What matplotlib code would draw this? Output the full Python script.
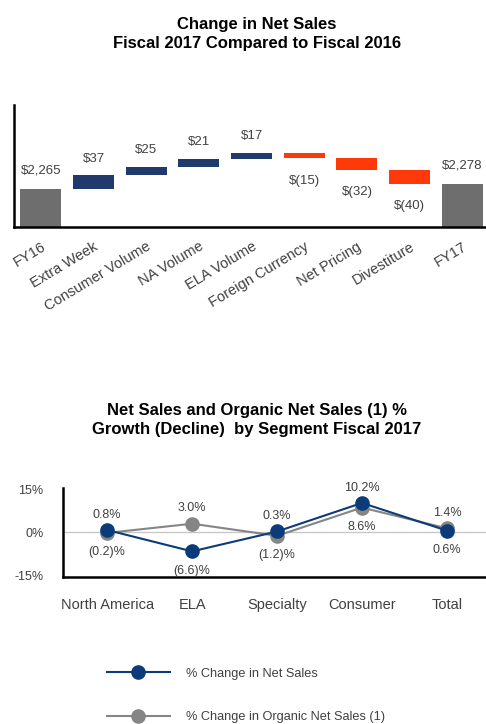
import matplotlib
matplotlib.use("Agg")
import matplotlib.pyplot as plt
import numpy as np

plt.rcParams['font.family'] = ['Liberation Sans', 'DejaVu Sans']

# ---- Waterfall data ----
wf_categories = ["FY16", "Extra Week", "Consumer Volume", "NA Volume", "ELA Volume",
                 "Foreign Currency", "Net Pricing", "Divestiture", "FY17"]
wf_start = 2265
wf_changes = [37, 25, 21, 17, -15, -32, -40]
wf_end = 2278
wf_labels = ["$2,265", "$37", "$25", "$21", "$17", "$(15)", "$(32)", "$(40)", "$2,278"]

# ---- Line chart data ----
segments = ["North America", "ELA", "Specialty", "Consumer", "Total"]
net_sales_pct = [0.8, -6.6, 0.3, 10.2, 0.6]
organic_pct = [-0.2, 3.0, -1.2, 8.6, 1.4]
yticks_pct = [-15, 0, 15]
ytick_labels = ["-15%", "0%", "15%"]

NAVY = "#1f3a6b"
RED = "#ff3a0a"
BARGRAY = "#6e6e6e"
LBLUE = "#0b3b78"
LGRAY = "#858585"
TXT = "#404040"

fig = plt.figure(figsize=(4.86, 7.24), dpi=100)

# ---------- Titles ----------
fig.text(257/486, 1 - 34/724, "Change in Net Sales\nFiscal 2017 Compared to Fiscal 2016",
         ha='center', va='center', fontsize=12, fontweight='bold', linespacing=1.4)
fig.text(257/486, 1 - 420/724, "Net Sales and Organic Net Sales (1) %\nGrowth (Decline)  by Segment Fiscal 2017",
         ha='center', va='center', fontsize=12, fontweight='bold', linespacing=1.4)

# ---------- Waterfall ----------
ax1 = fig.add_axes([14/486, 1 - 227/724, 1 - 14/486, (227 - 105)/724])
x = np.arange(len(wf_categories))
width = 0.78
cum = np.cumsum([wf_start] + wf_changes)
bottoms = [0]
heights = [wf_start]
colors = [BARGRAY]
for i, c in enumerate(wf_changes):
    prev = cum[i]
    bottoms.append(min(prev, prev + c))
    heights.append(abs(c))
    colors.append(NAVY if c > 0 else RED)
bottoms.append(0)
heights.append(wf_end)
colors.append(BARGRAY)
ax1.bar(x, heights, bottom=bottoms, width=width, color=colors)

for i in range(len(x)):
    top = bottoms[i] + heights[i]
    if i in (0, len(x) - 1):
        ax1.annotate(wf_labels[i], (x[i], top), xytext=(0, 13), textcoords='offset points',
                     ha='center', va='center', fontsize=9.5, color=TXT)
    elif wf_changes[i - 1] > 0:
        ax1.annotate(wf_labels[i], (x[i], top), xytext=(0, 12), textcoords='offset points',
                     ha='center', va='center', fontsize=9.5, color=TXT)
    else:
        ax1.annotate(wf_labels[i], (x[i], bottoms[i]), xytext=(0, -16), textcoords='offset points',
                     ha='center', va='center', fontsize=9.5, color=TXT)

ax1.set_ylim(2157, 2500)
ax1.set_xlim(-0.51, 8.45)
ax1.set_yticks([])
ax1.set_xticks(x)
ax1.set_xticklabels(wf_categories, rotation=31, ha='right', rotation_mode='anchor',
                    fontsize=10.5, color=TXT)
ax1.tick_params(axis='x', length=0, pad=9)
for s in ['top', 'right']:
    ax1.spines[s].set_visible(False)
ax1.spines['left'].set_linewidth(1.8)
ax1.spines['bottom'].set_linewidth(1.8)
ax1.set_facecolor('none')

# ---------- Line chart ----------
ax2 = fig.add_axes([63/486, 1 - 577/724, 1 - 63/486, (577 - 488)/724])
xs = np.arange(len(segments))
ax2.axhline(0, color="#c8c8c8", lw=1, zorder=1)
ax2.plot(xs, organic_pct, color=LGRAY, lw=1.5, marker='o', markersize=9.5, zorder=2,
         label="% Change in Organic Net Sales (1)")
ax2.plot(xs, net_sales_pct, color=LBLUE, lw=1.5, marker='o', markersize=9.5, zorder=3,
         label="% Change in Net Sales")

def fmt(v):
    return f"({abs(v):.1f})%" if v < 0 else f"{v:.1f}%"

for i in range(len(segments)):
    a, b = net_sales_pct[i], organic_pct[i]
    hi, lo = max(a, b), min(a, b)
    ax2.annotate(fmt(hi), (xs[i], hi), xytext=(0, 11), textcoords='offset points',
                 ha='center', va='center', fontsize=9, color=TXT)
    ax2.annotate(fmt(lo), (xs[i], lo), xytext=(0, -14), textcoords='offset points',
                 ha='center', va='center', fontsize=9, color=TXT)

ax2.set_ylim(-15.5, 15.4)
ax2.set_xlim(-0.52, 4.46)
ax2.set_yticks(yticks_pct)
ax2.set_yticklabels(ytick_labels, fontsize=9, color=TXT)
ax2.set_xticks(xs)
ax2.set_xticklabels(segments, fontsize=10.5, color=TXT)
ax2.tick_params(axis='y', length=0, pad=14)
ax2.tick_params(axis='x', length=0, pad=15)
for s in ['top', 'right']:
    ax2.spines[s].set_visible(False)
ax2.spines['left'].set_linewidth(1.8)
ax2.spines['bottom'].set_linewidth(1.8)
ax2.set_facecolor('none')

handles, labels = ax2.get_legend_handles_labels()
leg = fig.legend(handles[::-1], labels[::-1], loc='upper left',
                 bbox_to_anchor=(95/486, 1 - 656/724), frameon=False, fontsize=9.2,
                 handlelength=5.0, handletextpad=1.2, labelspacing=2.5, labelcolor=TXT)

fig.savefig("out.png", dpi=100)
